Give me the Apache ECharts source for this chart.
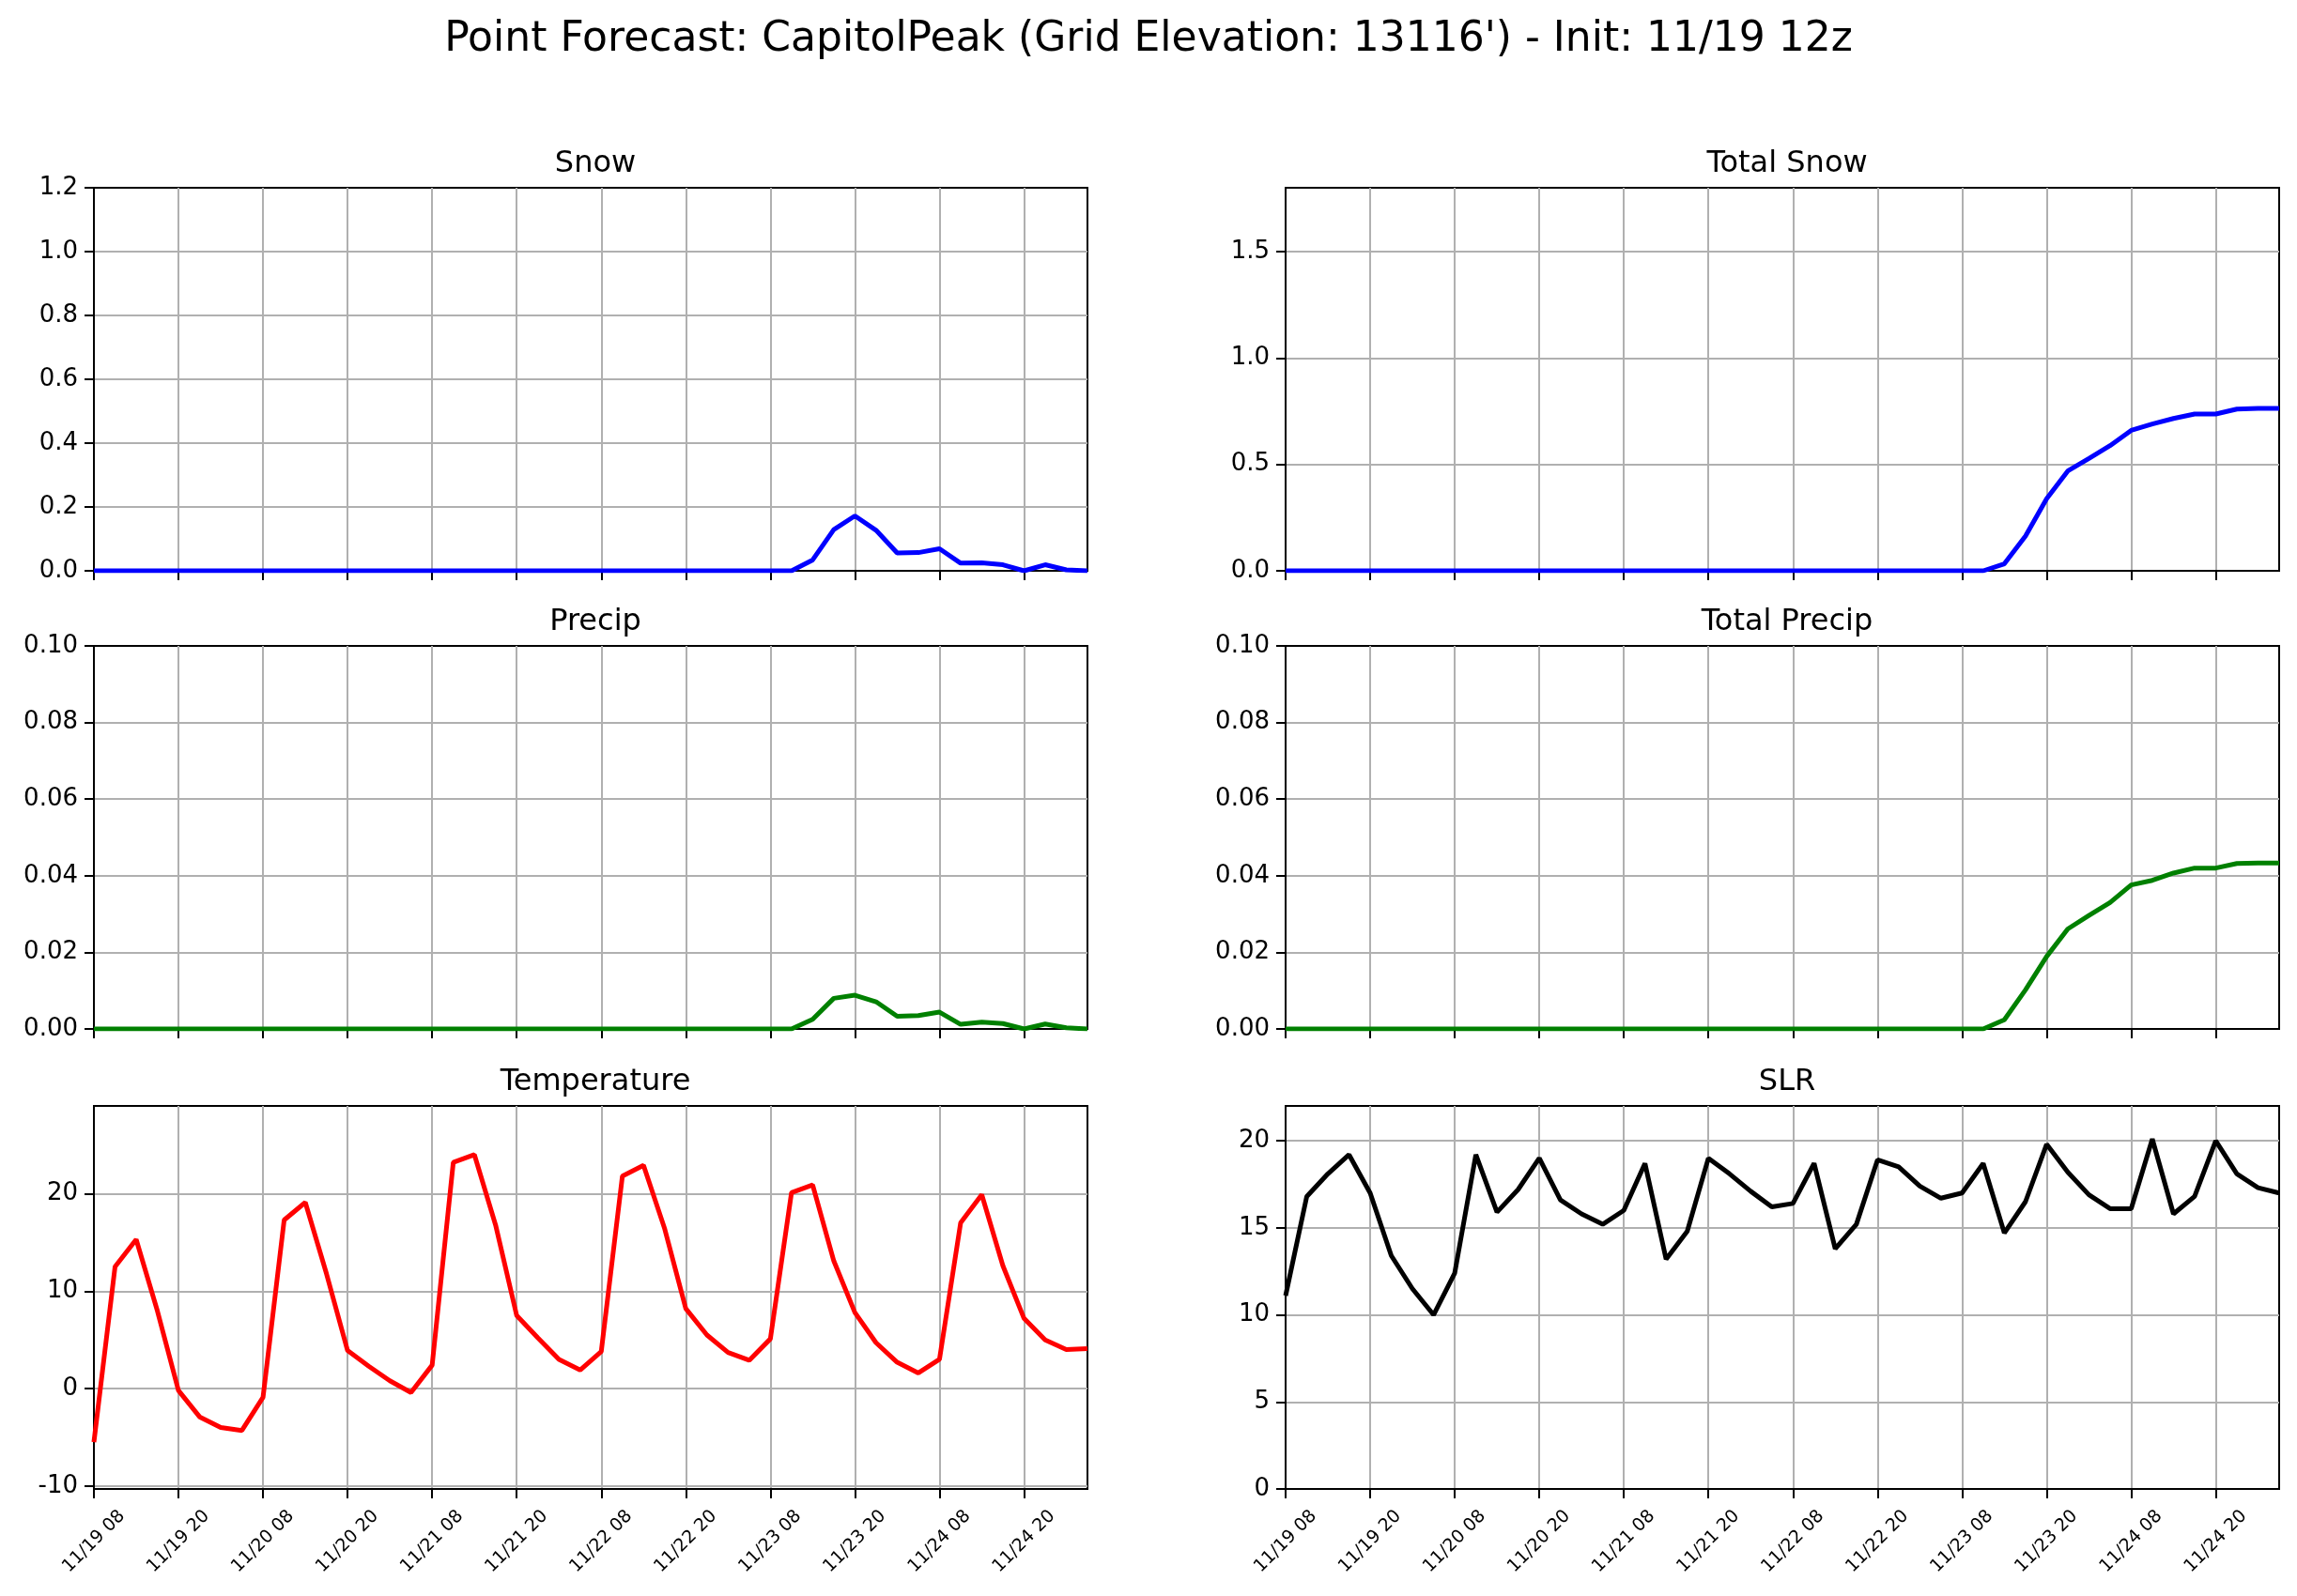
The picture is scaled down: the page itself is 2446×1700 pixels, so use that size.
<!DOCTYPE html>
<html>
<head>
<meta charset="utf-8">
<script src="https://cdn.jsdelivr.net/npm/echarts@6/dist/echarts.min.js"></script>
<style>
  html, body { margin: 0; padding: 0; background: #fff; }
  #main { width: 2446px; height: 1700px; }
</style>
</head>
<body>
<div id="main"></div>
<script>
// 3-hourly valid times, 11/19 08 .. 11/25 05
var times = [
  '11/19 08', '11/19 11', '11/19 14', '11/19 17', '11/19 20', '11/19 23',
  '11/20 02', '11/20 05', '11/20 08', '11/20 11', '11/20 14', '11/20 17', '11/20 20', '11/20 23',
  '11/21 02', '11/21 05', '11/21 08', '11/21 11', '11/21 14', '11/21 17', '11/21 20', '11/21 23',
  '11/22 02', '11/22 05', '11/22 08', '11/22 11', '11/22 14', '11/22 17', '11/22 20', '11/22 23',
  '11/23 02', '11/23 05', '11/23 08', '11/23 11', '11/23 14', '11/23 17', '11/23 20', '11/23 23',
  '11/24 02', '11/24 05', '11/24 08', '11/24 11', '11/24 14', '11/24 17', '11/24 20', '11/24 23',
  '11/25 02', '11/25 05'
];

var snow = [
  0, 0, 0, 0, 0, 0, 0, 0, 0, 0, 0, 0, 0, 0, 0, 0,
  0, 0, 0, 0, 0, 0, 0, 0, 0, 0, 0, 0, 0, 0, 0, 0, 0, 0,
  0.034, 0.129, 0.172, 0.127, 0.056, 0.057, 0.069, 0.024, 0.025, 0.019, 0.0, 0.019, 0.003, 0.0
];
var totalSnow = [
  0, 0, 0, 0, 0, 0, 0, 0, 0, 0, 0, 0, 0, 0, 0, 0,
  0, 0, 0, 0, 0, 0, 0, 0, 0, 0, 0, 0, 0, 0, 0, 0, 0, 0,
  0.033, 0.163, 0.339, 0.469, 0.528, 0.588, 0.660, 0.690, 0.716, 0.737, 0.737, 0.760, 0.763, 0.763
];
var precip = [
  0, 0, 0, 0, 0, 0, 0, 0, 0, 0, 0, 0, 0, 0, 0, 0,
  0, 0, 0, 0, 0, 0, 0, 0, 0, 0, 0, 0, 0, 0, 0, 0, 0, 0,
  0.0025, 0.0080, 0.0088, 0.0071, 0.0033, 0.0035, 0.0044, 0.0012, 0.0018, 0.0014, 0.0, 0.0013, 0.0003, 0.0
];
var totalPrecip = [
  0, 0, 0, 0, 0, 0, 0, 0, 0, 0, 0, 0, 0, 0, 0, 0,
  0, 0, 0, 0, 0, 0, 0, 0, 0, 0, 0, 0, 0, 0, 0, 0, 0, 0,
  0.0024, 0.0102, 0.0189, 0.0261, 0.0296, 0.0330, 0.0376, 0.0388, 0.0407, 0.0420, 0.0420, 0.0432, 0.0433, 0.0433
];
var temperature = [
  -5.5, 12.5, 15.3, 8.0, -0.2, -2.9, -4.0, -4.3,
  -0.9, 17.3, 19.1, 11.8, 3.9, 2.3, 0.8, -0.4,
  2.4, 23.2, 24.0, 16.8, 7.5, 5.2, 3.0, 1.9,
  3.8, 21.8, 22.9, 16.4, 8.2, 5.5, 3.7, 2.9,
  5.1, 20.1, 20.9, 13.1, 7.8, 4.7, 2.7, 1.6,
  3.0, 17.0, 19.9, 12.6, 7.2, 5.0, 4.0, 4.1
];
var slr = [
  11.1, 16.8, 18.1, 19.2, 17.0, 13.4, 11.5, 10.0,
  12.4, 19.2, 15.9, 17.2, 19.0, 16.6, 15.8, 15.2,
  16.0, 18.7, 13.2, 14.8, 19.0, 18.1, 17.1, 16.2,
  16.4, 18.7, 13.8, 15.2, 18.9, 18.5, 17.4, 16.7,
  17.0, 18.7, 14.7, 16.5, 19.8, 18.2, 16.9, 16.1,
  16.1, 20.1, 15.8, 16.8, 20.0, 18.1, 17.3, 17.0
];

var mainTitle = "Point Forecast: CapitolPeak (Grid Elevation: 13116') - Init: 11/19 12z";
var panelTitles = ['Snow', 'Total Snow', 'Precip', 'Total Precip', 'Temperature', 'SLR'];
var panelData = [snow, totalSnow, precip, totalPrecip, temperature, slr];
var panelColors = ['#0000ff', '#0000ff', '#008000', '#008000', '#ff0000', '#000000'];
// y ranges: [min, max, interval, decimals]
var yRanges = [
  [0, 1.2, 0.2, 1], [0, 1.8, 0.5, 1],
  [0, 0.1, 0.02, 2], [0, 0.1, 0.02, 2],
  [-10.3, 29, null, 0], [0, 22, 5, 0]
];

var FONT = 'DejaVu Sans';
var colLeft = [100, 1369];
var rowTop = [200, 688, 1178];
var W = 1058, H = 408;

var grids = [], xAxes = [], yAxes = [], series = [], titles = [];

titles.push({
  text: mainTitle, left: 'center', top: 16,
  textStyle: { fontFamily: FONT, fontSize: 44, fontWeight: 'normal', color: '#000' }
});

for (var i = 0; i < 6; i++) {
  var col = i % 2, row = Math.floor(i / 2);
  var r = yRanges[i];
  grids.push({
    left: colLeft[col], top: rowTop[row], width: W, height: H,
    show: true, borderColor: '#000', borderWidth: 2, backgroundColor: 'transparent'
  });
  titles.push({
    text: panelTitles[i],
    left: colLeft[col] + W / 2, top: rowTop[row] - 46,
    textAlign: 'center',
    textStyle: { fontFamily: FONT, fontSize: 32, fontWeight: 'normal', color: '#000' }
  });
  xAxes.push({
    type: 'category', gridIndex: i, data: times, boundaryGap: false,
    axisLine: { onZero: false, lineStyle: { color: '#000', width: 2 } },
    axisTick: { show: true, interval: 3, length: 10, lineStyle: { color: '#000', width: 2 } },
    axisLabel: {
      show: row === 2, interval: 3, rotate: 45, align: 'center', verticalAlign: 'middle',
      margin: 56, fontFamily: FONT, fontSize: 19, color: '#000'
    },
    splitLine: { show: true, interval: 3, showMinLine: false, lineStyle: { color: '#b0b0b0', width: 2 } }
  });
  var dec = r[3];
  var y = {
    type: 'value', gridIndex: i, min: r[0], max: r[1],
    axisLine: { show: true, onZero: false, lineStyle: { color: '#000', width: 2 } },
    axisTick: { show: true, length: 10, lineStyle: { color: '#000', width: 2 } },
    axisLabel: {
      margin: 17, fontFamily: FONT, fontSize: 26, color: '#000',
      showMaxLabel: i === 0 || i === 2 || i === 3,
      showMinLabel: i !== 4,
      formatter: (function (d) { return function (v) { return v.toFixed(d); }; })(dec)
    },
    splitLine: { show: true, showMinLine: false, showMaxLine: false, lineStyle: { color: '#b0b0b0', width: 2 } }
  };
  if (r[2] !== null) { y.interval = r[2]; } else { y.splitNumber = 4; }
  yAxes.push(y);
  series.push({
    type: 'line', xAxisIndex: i, yAxisIndex: i, data: panelData[i],
    showSymbol: false, symbol: 'none',
    lineStyle: { color: panelColors[i], width: 5 },
    itemStyle: { color: panelColors[i] }
  });
}

var chart = echarts.init(document.getElementById('main'), null, { renderer: 'canvas' });
chart.setOption({
  backgroundColor: '#fff',
  animation: false,
  title: titles,
  grid: grids,
  xAxis: xAxes,
  yAxis: yAxes,
  series: series
});
</script>
</body>
</html>
